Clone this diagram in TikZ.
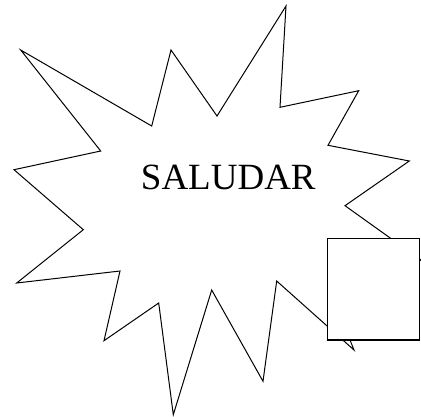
\documentclass[tikz,border=0pt]{standalone}
\usepackage{fontspec}
\setmainfont{Liberation Serif}
\begin{document}
\begin{tikzpicture}[x=1pt,y=-1pt,
  starline/.style={draw=black,line width=1pt,line join=miter,fill=white},
  boxnode/.style={draw=black,line width=1.2pt,fill=white,rectangle,minimum width=92.5pt,minimum height=101.5pt,inner sep=0pt,outer sep=0pt},
  labelnode/.style={font=\fontsize{37}{40}\selectfont,inner sep=0pt,anchor=base}]
\useasboundingbox (0,0) rectangle (421,416);
\path[starline] (20.7,50) -- (151.7,126) -- (171,50) -- (217,116) -- (286,6) -- (280,107.3)
  -- (358.7,90.7) -- (328,145.3) -- (409.3,161) -- (345,205.7) -- (421,260) -- (338,310)
  -- (354,350) -- (276.7,281) -- (263,381.3) -- (211.7,290) -- (173.3,414.7) -- (158.7,303)
  -- (104,340.7) -- (120,271) -- (16.7,283) -- (83.3,229.7) -- (14,169.7) -- (100.7,151) -- cycle;
\node[labelnode] (t) at (228.3,189) {SALUDAR};
\node[boxnode] (box) at (373.6,289.2) {};
\end{tikzpicture}
\end{document}
